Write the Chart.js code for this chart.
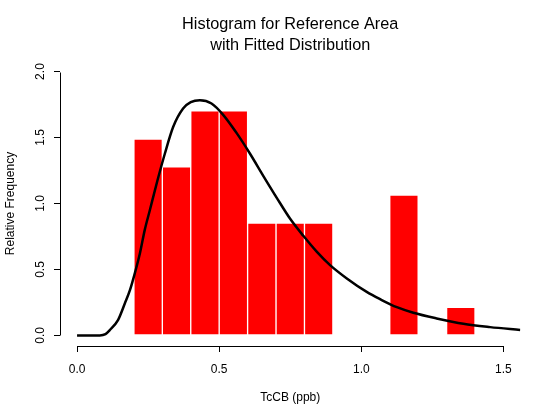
<!DOCTYPE html>
<html>
<head>
<meta charset="utf-8">
<script src="https://cdn.jsdelivr.net/npm/chart.js@4"></script>
<style>
html,body{margin:0;padding:0;background:#fff;}
#wrap{width:551px;height:420px;position:relative;}
</style>
</head>
<body>
<div id="wrap"><canvas id="c"></canvas></div>
<script>
// Histogram bins (bin midpoints, width 0.1) and relative frequencies
const binMids = [0.25, 0.35, 0.45, 0.55, 0.65, 0.75, 0.85, 0.95, 1.05, 1.15, 1.25, 1.35];
const relFreq = [1.489, 1.277, 1.702, 1.702, 0.851, 0.851, 0.851, 0, 0, 1.064, 0, 0.213];

// Fitted distribution curve
const curveX = [0.000, 0.080, 0.100, 0.115, 0.144, 0.168, 0.186, 0.203, 0.221, 0.238, 0.256, 0.283, 0.309, 0.338, 0.373, 0.400, 0.432, 0.473, 0.514, 0.561, 0.608, 0.655, 0.702, 0.749, 0.796, 0.843, 0.890, 0.949, 1.019, 1.066, 1.125, 1.183, 1.265, 1.359, 1.453, 1.559];
const curveY = [0.000, 0.000, 0.010, 0.040, 0.116, 0.242, 0.343, 0.470, 0.621, 0.798, 0.949, 1.176, 1.379, 1.580, 1.720, 1.768, 1.783, 1.758, 1.672, 1.535, 1.379, 1.210, 1.045, 0.886, 0.755, 0.635, 0.533, 0.432, 0.330, 0.275, 0.214, 0.172, 0.129, 0.088, 0.063, 0.042];

// Axis ticks and texts
const xTicks = [0, 0.5, 1.0, 1.5];
const yTicks = [0, 0.5, 1.0, 1.5, 2.0];
const titleLines = ['Histogram for Reference Area', 'with Fitted Distribution'];
const xTitle = 'TcCB (ppb)';
const yTitle = 'Relative Frequency';

const FONT = "'Liberation Sans', Arial, Helvetica, sans-serif";

const rAxes = {
  id: 'rAxes',
  afterDraw(chart) {
    const {ctx, chartArea} = chart;
    const xs = chart.scales.x, ys = chart.scales.y;
    ctx.save();
    ctx.strokeStyle = '#000';
    ctx.lineWidth = 1;
    // x axis line from first to last tick
    const yb = Math.round(chartArea.bottom) + 0.5;
    ctx.beginPath();
    ctx.moveTo(Math.round(xs.getPixelForValue(xTicks[0])) + 0.5, yb);
    ctx.lineTo(Math.round(xs.getPixelForValue(xTicks[xTicks.length - 1])) + 0.5, yb);
    ctx.stroke();
    // y axis line
    const xl = Math.round(chartArea.left) + 0.5;
    ctx.beginPath();
    ctx.moveTo(xl, Math.round(ys.getPixelForValue(yTicks[0])) + 0.5);
    ctx.lineTo(xl, Math.round(ys.getPixelForValue(yTicks[yTicks.length - 1])) + 0.5);
    ctx.stroke();
    // rotated y tick labels
    ctx.fillStyle = '#000';
    ctx.font = '12px ' + FONT;
    ctx.textAlign = 'center';
    ctx.textBaseline = 'alphabetic';
    yTicks.forEach(v => {
      const py = ys.getPixelForValue(v);
      ctx.save();
      ctx.translate(43.5, py);
      ctx.rotate(-Math.PI / 2);
      ctx.fillText(v.toFixed(1), 0, 0);
      ctx.restore();
    });
    ctx.restore();
  }
};

new Chart(document.getElementById('c'), {
  type: 'bar',
  data: {
    datasets: [
      {
        type: 'line',
        data: curveX.map((x, i) => ({x: x, y: curveY[i]})),
        borderColor: '#000',
        borderWidth: 2.5,
        pointRadius: 0,
        fill: false,
        cubicInterpolationMode: 'monotone',
        order: 0
      },
      {
        type: 'bar',
        data: binMids.map((x, i) => ({x: x, y: relFreq[i]})),
        backgroundColor: '#FF0000',
        borderColor: '#FFFFFF',
        borderWidth: 1,
        borderSkipped: false,
        barPercentage: 1,
        categoryPercentage: 1,
        order: 1
      }
    ]
  },
  options: {
    responsive: true,
    maintainAspectRatio: false,
    animation: false,
    layout: {padding: {left: 0, right: 30.5, top: 0, bottom: 0}},
    plugins: {
      legend: {display: false},
      tooltip: {enabled: false},
      title: {
        display: true,
        fullSize: false,
        text: titleLines,
        color: '#000',
        font: {family: FONT, size: 16.3, weight: 'normal', lineHeight: 1.3},
        padding: {top: 14, bottom: 4.6}
      }
    },
    scales: {
      x: {
        type: 'linear',
        offset: false,
        min: -0.06,
        max: 1.56,
        afterBuildTicks: s => { s.ticks = xTicks.map(v => ({value: v})); },
        afterFit: s => { s.height = 74; },
        border: {display: false},
        grid: {display: true, offset: false, drawOnChartArea: false, drawTicks: true, tickLength: 6, color: '#000', lineWidth: 1},
        ticks: {
          color: '#000',
          font: {family: FONT, size: 12},
          padding: 10.5,
          maxRotation: 0,
          autoSkip: false,
          callback: v => Number(v).toFixed(1)
        },
        title: {
          display: true,
          text: xTitle,
          color: '#000',
          font: {family: FONT, size: 12},
          padding: {top: 0, bottom: 14.7}
        }
      },
      y: {
        type: 'linear',
        min: -0.08,
        max: 2.08,
        afterBuildTicks: s => { s.ticks = yTicks.map(v => ({value: v})); },
        afterFit: s => { s.width = 60; },
        border: {display: false},
        grid: {display: true, offset: false, drawOnChartArea: false, drawTicks: true, tickLength: 6, color: '#000', lineWidth: 1},
        ticks: {display: false},
        title: {
          display: true,
          text: yTitle,
          color: '#000',
          font: {family: FONT, size: 12},
          padding: {top: 3.5, bottom: 0}
        }
      }
    }
  },
  plugins: [rAxes]
});
</script>
</body>
</html>
